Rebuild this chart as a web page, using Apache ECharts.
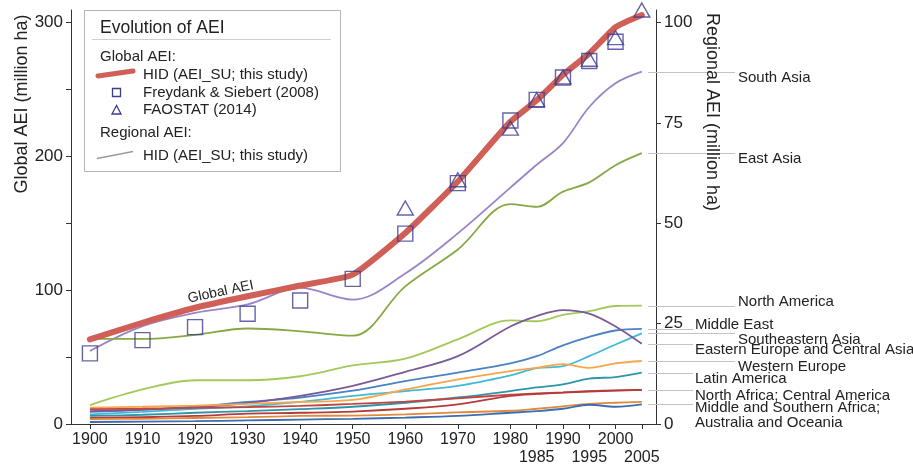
<!DOCTYPE html>
<html>
<head>
<meta charset="utf-8">
<script src="https://cdn.jsdelivr.net/npm/echarts@6/dist/echarts.min.js"></script>
<style>
  html, body { margin: 0; padding: 0; background: #fff; }
  #chart { width: 913px; height: 465px; }
</style>
</head>
<body>
<div id="chart"></div>
<script>
// ---- Data (million ha) ----
const years = [1900, 1910, 1920, 1930, 1940, 1950, 1960, 1970, 1980, 1985, 1990, 1995, 2000, 2005];

// Global area equipped for irrigation, HID (AEI_SU)
const globalHID = [63.2, 75.7, 86.9, 95.5, 103.5, 111.7, 142.8, 181.3, 226.0, 242.0, 261.0, 277.0, 296.6, 305.7];

// Freydank & Siebert (2008)
const freydankYears = [1900, 1910, 1920, 1930, 1940, 1950, 1960, 1970, 1980, 1985, 1990, 1995, 2000];
const freydank = [52.8, 62.7, 72.4, 82.4, 92.3, 108.5, 142.3, 180.1, 226.9, 242.3, 259.0, 271.4, 285.8];

// FAOSTAT (2014)
const faostatYears = [1960, 1970, 1980, 1985, 1990, 1995, 2000, 2005];
const faostat = [161.5, 182.6, 221.2, 242.5, 259.5, 272.7, 288.8, 309.5];

// Regional AEI, HID (AEI_SU)
const southAsia      = [18.2, 24.4, 27.7, 29.8, 33.9, 31.0, 37.5, 47.5, 58.9, 64.6, 70.0, 79.0, 84.9, 87.8];
const eastAsia       = [21.2, 21.2, 22.2, 23.8, 23.1, 22.0, 34.3, 43.5, 54.8, 54.1, 57.9, 60.2, 64.5, 67.5];
const northAmerica   = [4.7, 8.6, 10.9, 10.9, 11.9, 14.6, 16.3, 21.1, 25.8, 25.6, 27.2, 28.1, 29.4, 29.5];
const middleEast     = [3.0, 3.5, 4.3, 5.5, 6.6, 8.3, 10.7, 12.8, 15.1, 16.9, 19.6, 21.7, 23.3, 23.7];
const southeastAsia  = [2.4, 3.0, 3.8, 4.4, 5.5, 7.0, 8.2, 9.5, 12.1, 13.9, 14.4, 16.9, 19.8, 22.6];
const easternEurope  = [3.2, 3.6, 4.2, 5.2, 7.0, 9.5, 13.0, 16.9, 24.3, 26.9, 28.4, 27.5, 24.3, 20.0];
const westernEurope  = [4.1, 4.3, 4.6, 5.0, 5.5, 6.0, 8.6, 11.1, 13.2, 14.0, 14.9, 14.0, 15.1, 15.7];
const latinAmerica   = [2.0, 2.3, 2.8, 3.2, 3.7, 4.3, 5.3, 6.6, 8.2, 9.1, 9.9, 11.3, 11.7, 12.8];
const northAfrica    = [3.7, 3.8, 4.0, 4.2, 4.5, 5.0, 5.6, 6.4, 7.3, 7.6, 7.9, 8.2, 8.4, 8.5];
const centralAmerica = [1.5, 1.7, 2.0, 2.6, 2.8, 3.1, 3.8, 4.9, 7.0, 7.5, 7.8, 8.1, 8.3, 8.5];
const southernAfrica = [1.2, 1.3, 1.5, 1.7, 2.0, 2.1, 2.4, 2.9, 3.3, 3.8, 4.4, 5.0, 5.3, 5.5];
const oceania        = [0.5, 0.6, 0.7, 0.9, 1.1, 1.3, 1.6, 2.0, 2.8, 3.2, 3.8, 4.8, 4.3, 4.9];

const regionNames = [
  'South Asia', 'East Asia', 'North America', 'Middle East', 'Southeastern Asia',
  'Eastern Europe and Central Asia', 'Western Europe', 'Latin America',
  'North Africa', 'Central America', 'Middle and Southern Africa', 'Australia and Oceania'
];
const regionValues = [
  southAsia, eastAsia, northAmerica, middleEast, southeastAsia, easternEurope,
  westernEurope, latinAmerica, northAfrica, centralAmerica, southernAfrica, oceania
];

// Axis ticks
const xLabelYears = [1900, 1910, 1920, 1930, 1940, 1950, 1960, 1970, 1980, 1990, 2000];
const xLowerLabelYears = [1985, 1995, 2005];
const globalTicks = [0, 50, 100, 150, 200, 250, 300];
const globalLabels = [0, 100, 200, 300];
const regionalTicks = [0, 25, 50, 75, 100];

// ---- Styling ----
const FONT = 'Liberation Sans, Arial, sans-serif';
const TEXT = '#222';
const AXIS = '#333';
const regionColors = [
  '#9a84c6', '#86a845', '#a3c95a', '#4a82c4', '#43b9d9', '#7a5a98',
  '#f7a64b', '#2b96a9', '#c4453f', '#b53a3c', '#e2893a', '#3b6db0'
];
const markerColor = '#3d3d8f';
const globalColor = '#cf5f57';

// Right-hand region labels: which series the leader line follows, how far it reaches, text offset
const regionLabels = [
  { text: 'South Asia', series: 0, far: true, dy: 5 },
  { text: 'East Asia', series: 1, far: true, dy: 5 },
  { text: 'North America', series: 2, far: true, dy: -5 },
  { text: 'Middle East', series: 3, far: false, dy: -5 },
  { text: 'Southeastern Asia', series: 4, far: true, dy: 6 },
  { text: 'Eastern Europe and Central Asia', series: 5, far: false, dy: 5 },
  { text: 'Western Europe', series: 6, far: true, dy: 5.5 },
  { text: 'Latin America', series: 7, far: false, dy: 5 },
  { text: 'North Africa; Central America', series: 8, far: false, dy: 5.5 },
  { text: 'Middle and Southern Africa;\nAustralia and Oceania', series: 11, far: false, dy: 10.5 }
];

const pairs = (xs, ys) => xs.map((x, i) => [x, ys[i]]);

const X_MIN = 1896.4, X_MAX = 2007.7;
const G_MAX = 309.5;

const chart = echarts.init(document.getElementById('chart'), null, { renderer: 'canvas' });

const regionalSeries = regionNames.map((name, i) => ({
  name: name,
  type: 'line',
  xAxisIndex: 0,
  yAxisIndex: 1,
  data: pairs(years, regionValues[i]),
  smooth: 0.35,
  showSymbol: false,
  lineStyle: { width: 1.8, color: regionColors[i] },
  itemStyle: { color: regionColors[i] },
  z: 2,
  silent: true
}));

chart.setOption({
  animation: false,
  backgroundColor: '#fff',
  grid: { left: 71, right: 257, top: 10, bottom: 41, containLabel: false, outerBoundsMode: 'none' },
  xAxis: [
    {
      type: 'value', min: X_MIN, max: X_MAX, position: 'bottom',
      axisLine: { show: true, lineStyle: { color: AXIS, width: 1 } },
      axisTick: { show: true, length: 5, lineStyle: { color: AXIS },
        customValues: xLabelYears.concat(xLowerLabelYears) },
      axisLabel: { customValues: xLabelYears, color: TEXT, fontSize: 16, fontFamily: FONT, margin: 8,
        formatter: v => String(v) },
      splitLine: { show: false }
    },
    {
      type: 'value', min: X_MIN, max: X_MAX, position: 'bottom',
      axisLine: { show: false },
      axisTick: { show: false },
      axisLabel: { customValues: xLowerLabelYears, color: TEXT, fontSize: 16, fontFamily: FONT, margin: 26,
        formatter: v => String(v) },
      splitLine: { show: false }
    }
  ],
  yAxis: [
    {
      type: 'value', min: 0, max: G_MAX, position: 'left',
      axisLine: { show: true, lineStyle: { color: AXIS, width: 1 } },
      axisTick: { show: true, length: 5, lineStyle: { color: AXIS }, customValues: globalTicks },
      axisLabel: { customValues: globalLabels, color: TEXT, fontSize: 17, fontFamily: FONT, margin: 8 },
      splitLine: { show: false }
    },
    {
      type: 'value', min: 0, max: G_MAX / 3, position: 'right',
      axisLine: { show: true, lineStyle: { color: AXIS, width: 1 } },
      axisTick: { show: true, length: 5, lineStyle: { color: AXIS }, customValues: regionalTicks },
      axisLabel: { customValues: regionalTicks, color: TEXT, fontSize: 17, fontFamily: FONT, margin: 8 },
      splitLine: { show: false }
    }
  ],
  series: regionalSeries.concat([
    {
      name: 'HID (AEI_SU; this study)',
      type: 'line', xAxisIndex: 0, yAxisIndex: 0,
      data: pairs(years, globalHID),
      smooth: 0.15, showSymbol: false,
      lineStyle: { width: 6, color: globalColor, cap: 'round', join: 'round' },
      z: 3, silent: true
    },
    {
      name: 'Freydank & Siebert (2008)',
      type: 'scatter', xAxisIndex: 0, yAxisIndex: 0,
      data: pairs(freydankYears, freydank),
      symbol: 'rect', symbolSize: 15,
      itemStyle: { color: 'rgba(0,0,0,0)', borderColor: markerColor, borderWidth: 1.4 },
      clip: false, z: 4, silent: true
    },
    {
      name: 'FAOSTAT (2014)',
      type: 'scatter', xAxisIndex: 0, yAxisIndex: 0,
      data: pairs(faostatYears, faostat),
      symbol: 'triangle', symbolSize: [16, 14],
      itemStyle: { color: 'rgba(0,0,0,0)', borderColor: markerColor, borderWidth: 1.4 },
      clip: false, z: 5, silent: true
    }
  ])
});

// ---- Annotations: legend box, axis titles, region labels ----
const txt = (text, x, y, size, extra) => Object.assign({
  type: 'text', x: x, y: y, z: 20,
  style: { text: text, font: size + 'px ' + FONT, fill: TEXT, align: 'left', verticalAlign: 'middle' }
}, extra || {});

const graphics = [
  // legend frame
  { type: 'rect', z: 15, shape: { x: 84.5, y: 10.5, width: 256, height: 161 },
    style: { fill: '#fff', stroke: '#b4b4b4', lineWidth: 1 } },
  txt('Evolution of AEI', 100, 28, 17.5),
  { type: 'line', z: 20, shape: { x1: 92, y1: 39.5, x2: 331, y2: 39.5 }, style: { stroke: '#cfcfcf', lineWidth: 1 } },
  txt('Global AEI:', 100, 57, 15),
  { type: 'line', z: 20, shape: { x1: 98, y1: 76, x2: 133, y2: 71 },
    style: { stroke: globalColor, lineWidth: 5, lineCap: 'round' } },
  txt('HID (AEI_SU; this study)', 143, 75, 15),
  { type: 'rect', z: 20, shape: { x: 112.5, y: 88.5, width: 8, height: 8 },
    style: { fill: 'none', stroke: markerColor, lineWidth: 1.3 } },
  txt('Freydank & Siebert (2008)', 143, 92.5, 15),
  { type: 'polygon', z: 20, shape: { points: [[116.5, 105.5], [112, 114], [121, 114]] },
    style: { fill: 'none', stroke: markerColor, lineWidth: 1.3 } },
  txt('FAOSTAT (2014)', 143, 110, 15),
  txt('Regional AEI:', 100, 132.5, 15),
  { type: 'line', z: 20, shape: { x1: 97, y1: 158.5, x2: 133, y2: 151.5 },
    style: { stroke: '#9a9a9a', lineWidth: 1.5 } },
  txt('HID (AEI_SU; this study)', 143, 155.5, 15),

  // axis titles
  txt('Global AEI (million ha)', 22, 104, 18, { rotation: Math.PI / 2,
    style: { text: 'Global AEI (million ha)', font: '18px ' + FONT, fill: TEXT, align: 'center', verticalAlign: 'middle' } }),
  txt('Regional AEI (million ha)', 712, 112, 18, { rotation: -Math.PI / 2,
    style: { text: 'Regional AEI (million ha)', font: '18px ' + FONT, fill: TEXT, align: 'center', verticalAlign: 'middle' } }),

  // label riding on the global curve
  txt('Global AEI', 188, 299, 14, { rotation: 0.21,
    style: { text: 'Global AEI', font: '14px ' + FONT, fill: TEXT, align: 'left', verticalAlign: 'middle' } })
];

// leader lines at each region's 2005 value, with its name
regionLabels.forEach(lab => {
  const vals = regionValues[lab.series];
  const y = Math.round(chart.convertToPixel({ yAxisIndex: 1 }, vals[vals.length - 1])) + 0.5;
  graphics.push({ type: 'line', z: 10, silent: true,
    shape: { x1: 648, y1: y, x2: lab.far ? 735 : 693, y2: y },
    style: { stroke: '#c4c4c4', lineWidth: 1 } });
  graphics.push({ type: 'text', z: 20, x: lab.far ? 738 : 695, y: y + lab.dy,
    style: { text: lab.text, font: '15px ' + FONT, fill: TEXT, align: 'left', verticalAlign: 'middle', lineHeight: 15 } });
});

chart.setOption({ graphic: graphics });
</script>
</body>
</html>
